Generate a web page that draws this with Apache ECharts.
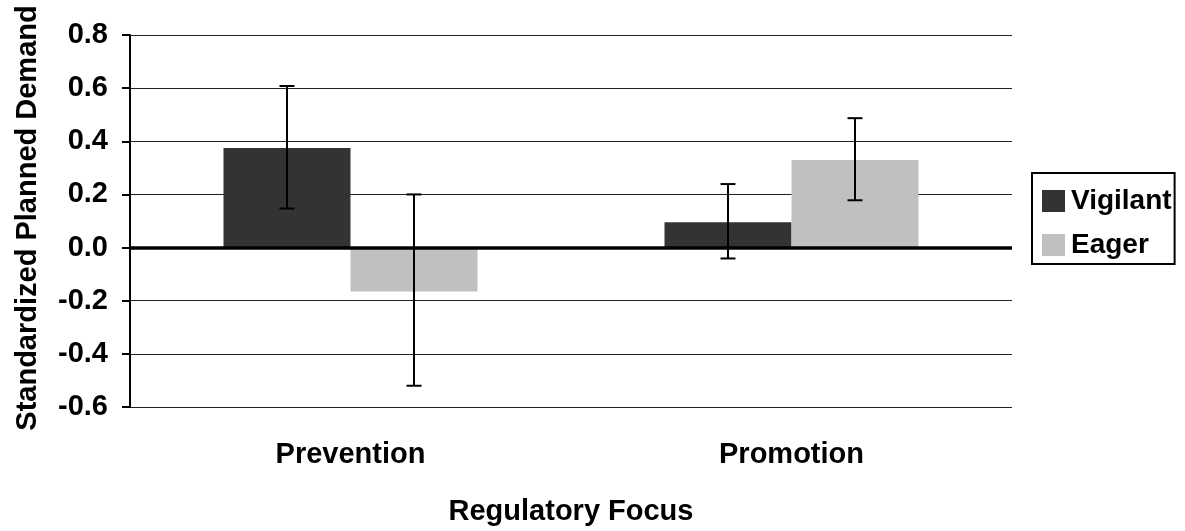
<!DOCTYPE html>
<html>
<head>
<meta charset="utf-8">
<script src="https://cdn.jsdelivr.net/npm/echarts@6/dist/echarts.min.js"></script>
<style>
  html, body { margin: 0; padding: 0; background: #fff; }
  #chart { width: 1185px; height: 531px; }
</style>
</head>
<body>
<div id="chart"></div>
<script>
// Regulatory focus x strategy: standardized planned demand (means with error bars)
const categories = ['Prevention', 'Promotion'];
const seriesNames = ['Vigilant', 'Eager'];
const vigilantMean = [0.375, 0.095];
const eagerMean = [-0.165, 0.33];
const vigilantLow = [0.147, -0.041];
const vigilantHigh = [0.608, 0.239];
const eagerLow = [-0.52, 0.178];
const eagerHigh = [0.20, 0.487];
const yTicks = { min: -0.6, max: 0.8, step: 0.2 };

const FONT = '"Liberation Sans", Arial, sans-serif';
const CATEGORY_GAP = 0.424; // fraction of each category band left empty
const colors = ['#333333', '#c0c0c0'];
const label = { fontFamily: FONT, fontWeight: 'bold', fontSize: 29, color: '#000' };

const chart = echarts.init(document.getElementById('chart'), null, { renderer: 'canvas' });

// Error bars for one series; side = -1 (left bar) or +1 (right bar)
function errorSeries(low, high, side) {
  return {
    type: 'custom',
    silent: true,
    z: 10,
    data: categories.map((c, i) => [i, low[i], high[i]]),
    renderItem: function (params, api) {
      const band = api.size([1, 0])[0];
      const barW = band * (1 - CATEGORY_GAP) / 2;
      const lo = api.coord([api.value(0), api.value(1)]);
      const hi = api.coord([api.value(0), api.value(2)]);
      const x = lo[0] + side * barW / 2;
      const cap = 7.5;
      const style = { stroke: '#000', lineWidth: 2 };
      return {
        type: 'group',
        children: [
          { type: 'line', shape: { x1: x, y1: lo[1], x2: x, y2: hi[1] }, style },
          { type: 'line', shape: { x1: x - cap, y1: lo[1], x2: x + cap, y2: lo[1] }, style },
          { type: 'line', shape: { x1: x - cap, y1: hi[1], x2: x + cap, y2: hi[1] }, style }
        ]
      };
    }
  };
}

const option = {
  animation: false,
  backgroundColor: '#ffffff',
  grid: { left: 130, right: 173, top: 35, bottom: 124, outerBoundsMode: 'none', containLabel: false },
  legend: {
    orient: 'vertical',
    left: 1032,
    top: 173,
    data: seriesNames,
    icon: 'rect',
    itemWidth: 23,
    itemHeight: 22,
    itemGap: 16,
    padding: [14, 3, 5, 10],
    borderColor: '#000',
    borderWidth: 2,
    borderRadius: 0,
    textStyle: { fontFamily: FONT, fontWeight: 'bold', fontSize: 28, color: '#000', padding: [0, 0, 0, 1] }
  },
  xAxis: {
    type: 'category',
    data: categories,
    name: 'Regulatory Focus',
    nameLocation: 'middle',
    nameGap: 90,
    nameTextStyle: label,
    axisLine: { show: false },
    axisTick: { show: false },
    axisLabel: Object.assign({ margin: 33 }, label)
  },
  yAxis: {
    type: 'value',
    min: yTicks.min,
    max: yTicks.max,
    interval: yTicks.step,
    name: 'Standardized Planned Demand',
    nameLocation: 'middle',
    nameGap: 88,
    nameTextStyle: Object.assign({ padding: [0, 0, 0, 6] }, label),
    axisLine: { show: true, lineStyle: { color: '#000', width: 2 } },
    axisTick: { show: true, inside: false, length: 8, lineStyle: { color: '#000', width: 2 } },
    axisLabel: Object.assign({ margin: 22, formatter: v => v.toFixed(1) }, label),
    splitLine: { show: true, lineStyle: { color: '#222', width: 1 } }
  },
  series: [
    {
      name: seriesNames[0],
      type: 'bar',
      data: vigilantMean,
      itemStyle: { color: colors[0] },
      barGap: '0%',
      barCategoryGap: (CATEGORY_GAP * 100) + '%',
      markLine: {
        silent: true,
        symbol: 'none',
        label: { show: false },
        lineStyle: { color: '#000', width: 3.5, type: 'solid' },
        data: [{ yAxis: 0 }],
        z: 20
      }
    },
    {
      name: seriesNames[1],
      type: 'bar',
      data: eagerMean,
      itemStyle: { color: colors[1] },
      barGap: '0%',
      barCategoryGap: (CATEGORY_GAP * 100) + '%'
    },
    errorSeries(vigilantLow, vigilantHigh, -1),
    errorSeries(eagerLow, eagerHigh, 1)
  ]
};

chart.setOption(option);
</script>
</body>
</html>
